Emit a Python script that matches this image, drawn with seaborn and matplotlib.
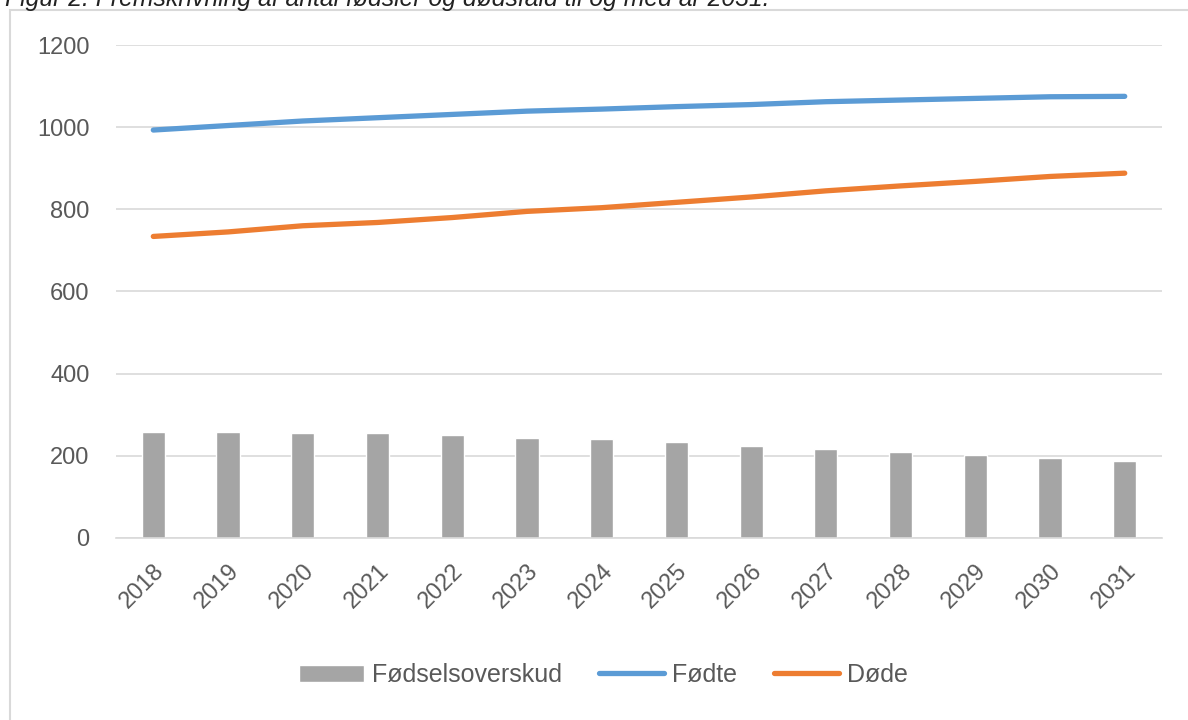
import numpy as np
import pandas as pd
import matplotlib
matplotlib.use("Agg")
import matplotlib.pyplot as plt
from matplotlib.patches import Rectangle
import seaborn as sns

# Data
aar = ["2018", "2019", "2020", "2021", "2022", "2023", "2024",
       "2025", "2026", "2027", "2028", "2029", "2030", "2031"]
foedte = [993, 1004, 1015, 1023, 1031, 1039, 1044, 1050, 1055, 1062, 1066, 1070, 1074, 1075]
doede = [734, 745, 760, 768, 780, 795, 804, 817, 830, 845, 857, 868, 880, 888]
overskud = [259, 259, 255, 255, 251, 244, 240, 233, 225, 217, 209, 202, 194, 187]

titel = "Figur 2: Fremskrivning af antal fødsler og dødsfald til og med år 2031."

df = pd.DataFrame({"År": aar, "Fødte": foedte, "Døde": doede, "Fødselsoverskud": overskud})

sns.set_style("white")
plt.rcParams["font.family"] = ["Liberation Sans", "DejaVu Sans"]

fig = plt.figure(figsize=(11.88, 7.2), dpi=100)
ax = fig.add_axes([0.0976, 0.2528, 0.8806, 0.6847])

# Søjler
sns.barplot(data=df, x="År", y="Fødselsoverskud", color="#A5A5A5", saturation=1,
            width=0.31, ax=ax, label="Fødselsoverskud", zorder=2)

# Linjer
sns.lineplot(data=df, x="År", y="Fødte", color="#5B9BD5", linewidth=3.8,
             ax=ax, label="Fødte", zorder=3, solid_capstyle="round")
sns.lineplot(data=df, x="År", y="Døde", color="#ED7D31", linewidth=3.8,
             ax=ax, label="Døde", zorder=3, solid_capstyle="round")

ax.set_xlim(-0.5, len(aar) - 0.5)
ax.set_ylim(0, 1200)
ax.set_yticks(range(0, 1201, 200))
ax.yaxis.grid(True, color="#D9D9D9", linewidth=1.2, zorder=0)
ax.set_axisbelow(True)
for side in ["top", "right", "left"]:
    ax.spines[side].set_visible(False)
ax.spines["bottom"].set_color("#D9D9D9")
ax.spines["bottom"].set_linewidth(1.2)
ax.set_xlabel("")
ax.set_ylabel("")
ax.tick_params(axis="both", length=0, colors="#595959", labelsize=17)
ax.tick_params(axis="y", pad=19)
ax.tick_params(axis="x", pad=16)
plt.setp(ax.get_xticklabels(), rotation=45, ha="right", rotation_mode="anchor")

handles, labels = ax.get_legend_handles_labels()
orden = [labels.index(n) for n in ["Fødselsoverskud", "Fødte", "Døde"]]
ax.get_legend().remove()
fig.legend([handles[i] for i in orden], [labels[i] for i in orden],
           loc="center", bbox_to_anchor=(0.508, 0.0625), ncol=3,
           frameon=False, fontsize=18, handlelength=2.6, handleheight=0.7,
           columnspacing=1.5, handletextpad=0.3, labelcolor="#595959")

# Ramme om diagrammet
fig.patches.append(Rectangle((10 / 1188, -0.01), 1.2, (710 / 720) + 0.01,
                             transform=fig.transFigure, fill=False,
                             edgecolor="#D9D9D9", linewidth=1.5))

fig.text(0.004, 1.003, titel, ha="left", va="center", fontsize=17.8,
         style="italic", color="#222222")

fig.savefig("out.png", dpi=100)
